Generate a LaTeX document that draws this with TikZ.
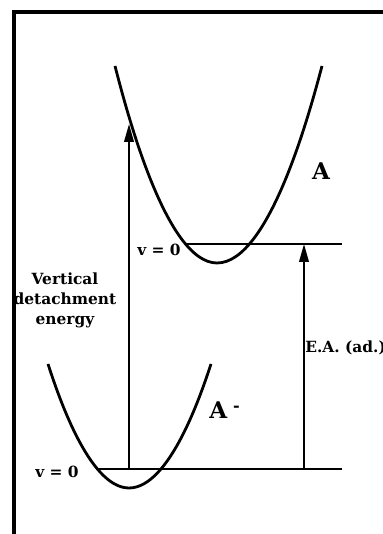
\documentclass[tikz,border=0pt]{standalone}
\usepackage{fontspec}
\setmainfont{DejaVu Serif}
\usetikzlibrary{arrows.meta,calc}
\tikzset{
  frame/.style={line width=2pt},
  well/.style={line width=1.4pt},
  level/.style={line width=1pt},
  rise/.style={-{Triangle[length=9pt, width=4.8pt]}, line width=1pt},
  % bold serif labels, same size everywhere
  lbl/.style={font=\fontsize{7.7}{10}\selectfont\bfseries, align=center, inner sep=0pt},
  state/.style={font=\fontsize{11.5}{13}\selectfont\bfseries, inner sep=0pt},
}

\begin{document}
\begin{tikzpicture}[x=0.5pt, y=0.5pt]
\useasboundingbox (0,0) rectangle (383,534);

%% ── frame (only the left and top edges show) ─────────────────────────────
\draw[frame] (14,0) -- (14,522) -- (383,522);

%% ── the two potential wells ──────────────────────────────────────────────
\draw[well] (115,468) parabola bend (217,271) (322,468);
\draw[well] (48,170) parabola bend (129,46) (211,170);

%% v = 0 levels, each starting where it meets its well
\coordinate (upL) at (185,290);
\coordinate (upR) at (342,290);
\coordinate (loL) at (97,65);
\coordinate (loR) at (342,65);
\draw[level] (upL) -- (upR);
\draw[level] (loL) -- (loR);

%% ── vertical detachment and adiabatic E.A. ───────────────────────────────
\coordinate (vdeTop) at (129,410);
\coordinate (eaFoot) at (304,65);
\draw[rise] (loL -| vdeTop) -- (vdeTop);
\draw[rise] (eaFoot) -- (eaFoot |- upL);

%% ── labels ───────────────────────────────────────────────────────────────
\node[state] (nA) at (321,363) {A};
\node[state, anchor=west] (nAm) at (209,124) {A\hspace{3pt}\raisebox{3.5pt}{\fontsize{8}{8}\selectfont -}};
\node[lbl, anchor=east] (vUp) at (181,284) {v = 0};
\node[lbl] (vLo) at (57,62) {v = 0};
\node[lbl] (vde) at (65,234) {Vertical\\detachment\\energy};
\node[lbl, anchor=west] (ea) at (305,186) {E.A. (ad.)};

\end{tikzpicture}
\end{document}
